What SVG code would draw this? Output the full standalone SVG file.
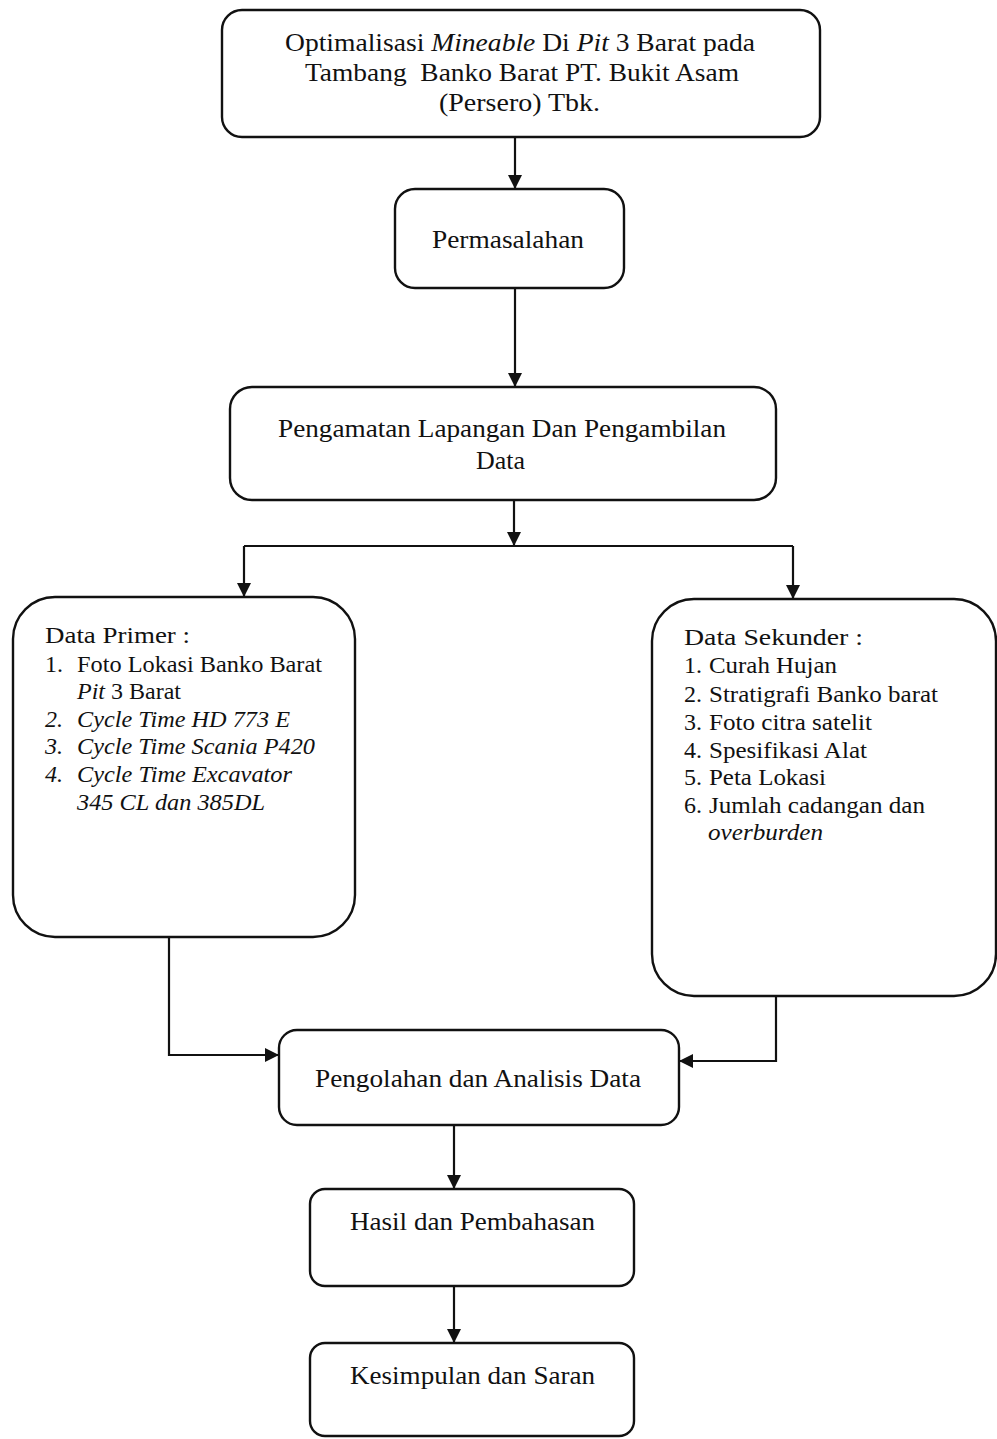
<svg xmlns="http://www.w3.org/2000/svg" width="997" height="1439" viewBox="0 0 997 1439">
<style>
.box{fill:#fff;stroke:#111;stroke-width:2.4}
.t{font-family:"Liberation Serif","Times New Roman",serif;fill:#111;font-size:24px}
.big{font-size:26px}
.lbl{font-size:26px}
.i{font-style:italic}
.c{fill:none;stroke:#111;stroke-width:2.2}
</style>
<defs>
<marker id="ah" viewBox="0 0 10 10" refX="10" refY="5" markerWidth="17" markerHeight="14" markerUnits="userSpaceOnUse" orient="auto">
<path d="M0,0 L10,5 L0,10 z" fill="#111"/>
</marker>
</defs>
<rect width="997" height="1439" fill="#fff"/>
<g id="connectors">
<path class="c" d="M515,137 V189" marker-end="url(#ah)"/>
<path class="c" d="M515,288 V387" marker-end="url(#ah)"/>
<path class="c" d="M514,500 V546" marker-end="url(#ah)"/>
<path class="c" d="M244,546 H793"/>
<path class="c" d="M244,546 V597" marker-end="url(#ah)"/>
<path class="c" d="M793,546 V599" marker-end="url(#ah)"/>
<path class="c" d="M169,937 V1055 H279" marker-end="url(#ah)"/>
<path class="c" d="M776,996 V1061 H679" marker-end="url(#ah)"/>
<path class="c" d="M454,1125 V1189" marker-end="url(#ah)"/>
<path class="c" d="M454,1286 V1343" marker-end="url(#ah)"/>
</g>
<g id="judul">
<rect class="box" x="222" y="10" width="598" height="127" rx="20"/>
<text class="t big" x="285" y="51" textLength="470" lengthAdjust="spacingAndGlyphs">Optimalisasi <tspan class="i">Mineable</tspan> Di <tspan class="i">Pit</tspan> 3 Barat pada</text>
<text class="t big" x="305" y="81" textLength="434" lengthAdjust="spacingAndGlyphs" xml:space="preserve">Tambang  Banko Barat PT. Bukit Asam</text>
<text class="t big" x="439" y="111" textLength="161" lengthAdjust="spacingAndGlyphs">(Persero) Tbk.</text>
</g>
<g id="permasalahan">
<rect class="box" x="395" y="189" width="229" height="99" rx="20"/>
<text class="t lbl" x="432" y="248" textLength="152" lengthAdjust="spacingAndGlyphs">Permasalahan</text>
</g>
<g id="pengamatan">
<rect class="box" x="230" y="387" width="546" height="113" rx="22"/>
<text class="t lbl" x="278" y="437" textLength="448" lengthAdjust="spacingAndGlyphs">Pengamatan Lapangan Dan Pengambilan</text>
<text class="t lbl" x="476" y="469" textLength="49" lengthAdjust="spacingAndGlyphs">Data</text>
</g>
<g id="data-primer">
<rect class="box" x="13" y="597" width="342" height="340" rx="42"/>
<text class="t" x="45" y="643" textLength="145" lengthAdjust="spacingAndGlyphs">Data Primer :</text>
<text class="t" x="45" y="672">1.</text>
<text class="t" x="77" y="672" textLength="245" lengthAdjust="spacingAndGlyphs">Foto Lokasi Banko Barat</text>
<text class="t" x="77" y="699" textLength="104" lengthAdjust="spacingAndGlyphs"><tspan class="i">Pit</tspan> 3 Barat</text>
<text class="t i" x="45" y="727">2.</text>
<text class="t i" x="77" y="727" textLength="213" lengthAdjust="spacingAndGlyphs">Cycle Time HD 773 E</text>
<text class="t i" x="45" y="754">3.</text>
<text class="t i" x="77" y="754" textLength="238" lengthAdjust="spacingAndGlyphs">Cycle Time Scania P420</text>
<text class="t i" x="45" y="782">4.</text>
<text class="t i" x="77" y="782" textLength="215" lengthAdjust="spacingAndGlyphs">Cycle Time Excavator</text>
<text class="t i" x="77" y="810" textLength="188" lengthAdjust="spacingAndGlyphs">345 CL dan 385DL</text>
</g>
<g id="data-sekunder">
<rect class="box" x="652" y="599" width="344" height="397" rx="42"/>
<text class="t" x="684" y="645" textLength="179" lengthAdjust="spacingAndGlyphs">Data Sekunder :</text>
<text class="t" x="684" y="673">1.</text>
<text class="t" x="709" y="673" textLength="128" lengthAdjust="spacingAndGlyphs">Curah Hujan</text>
<text class="t" x="684" y="702">2.</text>
<text class="t" x="709" y="702" textLength="229" lengthAdjust="spacingAndGlyphs">Stratigrafi Banko barat</text>
<text class="t" x="684" y="730">3.</text>
<text class="t" x="709" y="730" textLength="163" lengthAdjust="spacingAndGlyphs">Foto citra satelit</text>
<text class="t" x="684" y="758">4.</text>
<text class="t" x="709" y="758" textLength="158" lengthAdjust="spacingAndGlyphs">Spesifikasi Alat</text>
<text class="t" x="684" y="785">5.</text>
<text class="t" x="709" y="785" textLength="117" lengthAdjust="spacingAndGlyphs">Peta Lokasi</text>
<text class="t" x="684" y="813">6.</text>
<text class="t" x="709" y="813" textLength="216" lengthAdjust="spacingAndGlyphs">Jumlah cadangan dan</text>
<text class="t i" x="708" y="840" textLength="115" lengthAdjust="spacingAndGlyphs">overburden</text>
</g>
<g id="pengolahan">
<rect class="box" x="279" y="1030" width="400" height="95" rx="18"/>
<text class="t lbl" x="315" y="1087" textLength="326" lengthAdjust="spacingAndGlyphs">Pengolahan dan Analisis Data</text>
</g>
<g id="hasil">
<rect class="box" x="310" y="1189" width="324" height="97" rx="15"/>
<text class="t lbl" x="350" y="1230" textLength="245" lengthAdjust="spacingAndGlyphs">Hasil dan Pembahasan</text>
</g>
<g id="kesimpulan">
<rect class="box" x="310" y="1343" width="324" height="93" rx="15"/>
<text class="t lbl" x="350" y="1384" textLength="245" lengthAdjust="spacingAndGlyphs">Kesimpulan dan Saran</text>
</g>
</svg>
